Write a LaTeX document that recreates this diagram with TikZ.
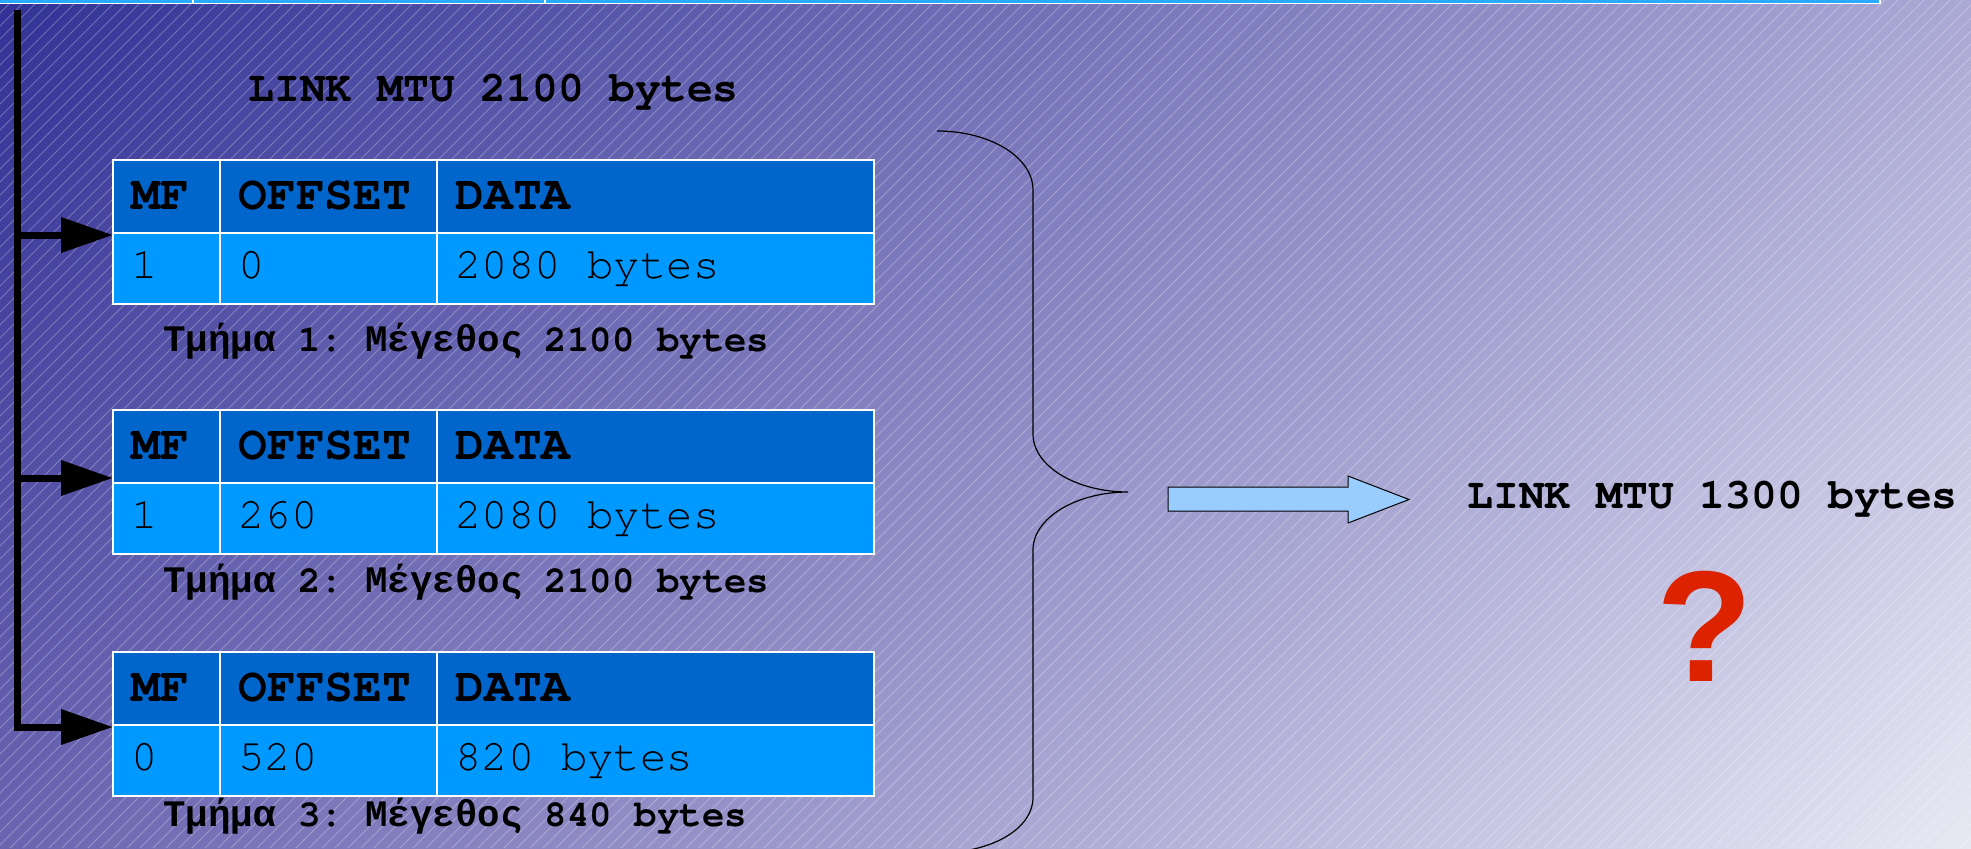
\documentclass[tikz,border=0pt]{standalone}
\usepackage{fontspec}
\setmonofont{TeX Gyre Cursor}
\newfontfamily\grk{Liberation Mono}
\newfontfamily\qfont{Liberation Sans}
\usetikzlibrary{arrows.meta,shadings}
\definecolor{bgTL}{RGB}{50,50,150}
\definecolor{bgTR}{RGB}{170,168,212}
\definecolor{bgBL}{RGB}{106,100,176}
\definecolor{bgBR}{RGB}{232,232,244}
\definecolor{hdrblue}{RGB}{0,102,204}
\definecolor{datblue}{RGB}{0,153,255}
\definecolor{stripblue}{RGB}{40,170,255}
\definecolor{arrowblue}{RGB}{153,204,255}
\definecolor{qred}{RGB}{221,34,0}
\begin{document}
\begin{tikzpicture}[x=0.5pt,y=-0.5pt,
  hdr/.style={font=\ttfamily\bfseries\fontsize{24}{28}\selectfont, anchor=base west, inner sep=0pt, text=black},
  dat/.style={font=\ttfamily\fontsize{22}{26}\selectfont, anchor=base west, inner sep=0pt, text=black},
  capt/.style={font=\ttfamily\bfseries\fontsize{18.7}{22}\selectfont, anchor=base west, inner sep=0pt, text=black},
  mtu/.style={font=\ttfamily\bfseries\fontsize{21.5}{25}\selectfont, anchor=base west, inner sep=0pt, text=black},
  grid/.style={draw=white, line width=0.7pt},
  hatch/.style={draw=white, opacity=0.28, line width=0.5pt},
  feed/.style={line width=3.5pt, line join=miter, -{Triangle[length=26pt,width=17pt]}},
  brace/.style={draw=black, line width=0.6pt},
  blockarrow/.style={draw=black, line width=0.5pt, fill=arrowblue},
]
\useasboundingbox (0,0) rectangle (1971,848);
\begin{scope}
\clip (0,0) rectangle (1971,848);
% background
\shade[upper left=bgTL, upper right=bgTR, lower left=bgBL, lower right=bgBR] (0,0) rectangle (1971,848);
\foreach \c in {0,13,...,2830} \draw[hatch] (\c,0) -- ({\c-848},848);
% top strip
\fill[stripblue] (0,-2) rectangle (1880,3);
\draw[white, line width=0.6pt] (0,3.5) -- (1880,3.5) (1880,-2) -- (1880,3.5) (193,-2) -- (193,3.5) (545,-2) -- (545,3.5);
% brace
\draw[brace] (937,131) .. controls (990,131) and (1033,157) .. (1033,190) -- (1033,434)
  .. controls (1033,466) and (1076,492) .. (1128,492)
  .. controls (1076,492) and (1033,518) .. (1033,550) -- (1033,797)
  .. controls (1033,830) and (990,853) .. (937,853);
\end{scope}

% title
\node[mtu] (mtu1) at (248,101) {LINK MTU 2100 bytes};

% tables
\foreach \T/\n/\mf/\off/\dat/\sz/\cb in {160/1/1/0/2080 bytes/2100/351, 410/2/1/260/2080 bytes/2100/592, 652/3/0/520/820 bytes/840/826}{
  \fill[hdrblue] (113,\T) rectangle (874,{\T+73});
  \fill[datblue] (113,{\T+73}) rectangle (874,{\T+144});
  \draw[grid] (113,\T) rectangle (874,{\T+144});
  \draw[grid] (113,{\T+73}) -- (874,{\T+73});
  \draw[grid] (220,\T) -- (220,{\T+144});
  \draw[grid] (437,\T) -- (437,{\T+144});
  \node[hdr] (mf\n) at (131,{\T+49}) {MF};
  \node[hdr] (off\n) at (238,{\T+49}) {OFFSET};
  \node[hdr] (data\n) at (455,{\T+49}) {DATA};
  \node[dat] (mfv\n) at (131,{\T+118}) {\mf};
  \node[dat] (offv\n) at (238,{\T+118}) {\off};
  \node[dat] (datav\n) at (455,{\T+118}) {\dat};
  \node[capt] (cap\n) at (163,\cb) {{\grk Τμήμα} \n: {\grk Μέγεθος} \sz\ bytes};
}

% feeding arrows
\coordinate (top) at (17,10);
\coordinate (j1) at (17,235);
\coordinate (j2) at (17,478);
\coordinate (bend) at (17,727);
\coordinate (in1) at (113,235);
\coordinate (in2) at (113,478);
\coordinate (in3) at (113,727);
\draw[feed] (top) -- (bend) -- (in3);
\draw[feed] (j1) -- (in1);
\draw[feed] (j2) -- (in2);

% block arrow
\draw[blockarrow] (1168,487) -- (1348,487) -- (1348,476) -- (1409,499.5) -- (1348,523) -- (1348,511) -- (1168,511) -- cycle;

% right side
\node[mtu] (mtu2) at (1467,508) {LINK MTU 1300 bytes};
\node[font=\qfont\bfseries\fontsize{79}{90}\selectfont, text=qred, anchor=base, inner sep=0pt] (q) at (1705,681) {?};
\end{tikzpicture}
\end{document}
